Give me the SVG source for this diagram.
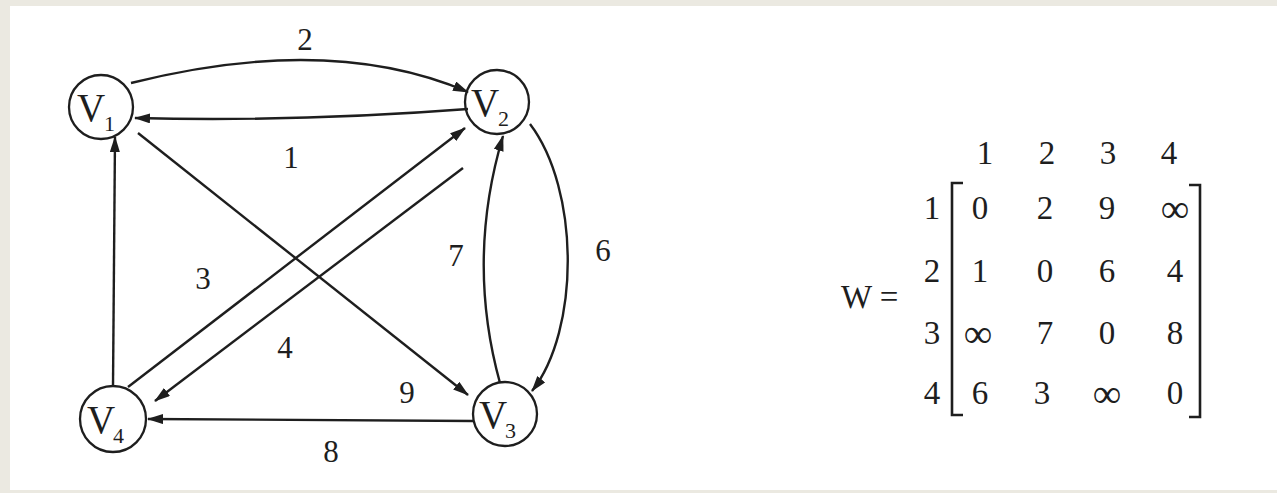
<svg xmlns="http://www.w3.org/2000/svg" width="1277" height="493" viewBox="0 0 1277 493">
<style>
.bg{fill:#ebe9e1}
.node circle{fill:none;stroke:#1e1e1e;stroke-width:2.3}
.t{font-family:"Liberation Serif","Times New Roman",serif;fill:#1e1e1e}
.nl{font-size:39px}
.sub{font-size:22px}
.lbl{font-size:31px;text-anchor:middle}
.m{font-size:33px;text-anchor:middle}
.inf{font-size:40px}
.edge{fill:none;stroke:#1e1e1e;stroke-width:2.4}
.br{fill:none;stroke:#1e1e1e;stroke-width:2.6}
</style>
<defs>
<marker id="ah" viewBox="0 0 16 10" refX="15" refY="5" markerWidth="16" markerHeight="10" markerUnits="userSpaceOnUse" orient="auto">
<path d="M0,0 L16,5 L0,10 Z" fill="#1e1e1e"/>
</marker>
</defs>
<rect x="0" y="0" width="1277" height="493" class="bg"/>
<rect x="10" y="6" width="1267" height="484" fill="#ffffff"/>

<g id="connectors">
<path class="edge" d="M131,83 Q330,33 468,92" marker-end="url(#ah)"/>
<path class="edge" d="M468,109 Q300,122 135,118" marker-end="url(#ah)"/>
<path class="edge" d="M138,133 L468,395" marker-end="url(#ah)"/>
<path class="edge" d="M113,386 L115,137" marker-end="url(#ah)"/>
<path class="edge" d="M128,387 L465,128" marker-end="url(#ah)"/>
<path class="edge" d="M463,168 L155,401" marker-end="url(#ah)"/>
<path class="edge" d="M500,383 Q466,260 503,136" marker-end="url(#ah)"/>
<path class="edge" d="M530,124 C580,190 580,330 532,391" marker-end="url(#ah)"/>
<path class="edge" d="M473,421 L148,419" marker-end="url(#ah)"/>
<text class="t lbl" x="305" y="50">2</text>
<text class="t lbl" x="291" y="168">1</text>
<text class="t lbl" x="203" y="289">3</text>
<text class="t lbl" x="285" y="358">4</text>
<text class="t lbl" x="456" y="266">7</text>
<text class="t lbl" x="603" y="261">6</text>
<text class="t lbl" x="407" y="403">9</text>
<text class="t lbl" x="331" y="462">8</text>
</g>

<g id="V1" class="node">
<circle cx="101" cy="107" r="32"/>
<text class="t nl" x="77" y="121">V</text><text class="t sub" x="104" y="131">1</text>
</g>
<g id="V2" class="node">
<circle cx="497" cy="102" r="32"/>
<text class="t nl" x="471" y="116">V</text><text class="t sub" x="498" y="126">2</text>
</g>
<g id="V3" class="node">
<circle cx="505" cy="414" r="32"/>
<text class="t nl" x="479" y="428">V</text><text class="t sub" x="505" y="438">3</text>
</g>
<g id="V4" class="node">
<circle cx="113" cy="419" r="33"/>
<text class="t nl" x="87" y="433">V</text><text class="t sub" x="113" y="443">4</text>
</g>

<g id="matrix">
<text class="t" style="font-size:33px" x="841" y="308">W =</text>
<text class="t m" x="985" y="164">1</text>
<text class="t m" x="1047" y="164">2</text>
<text class="t m" x="1108" y="164">3</text>
<text class="t m" x="1169" y="164">4</text>
<text class="t m" x="932" y="219">1</text>
<text class="t m" x="932" y="282">2</text>
<text class="t m" x="932" y="344">3</text>
<text class="t m" x="932" y="404">4</text>
<path class="br" d="M963,183 L952,183 L952,415 L963,415"/>
<path class="br" d="M1189,185 L1200,185 L1200,417 L1189,417"/>
<text class="t m" x="980" y="219">0</text>
<text class="t m" x="1045" y="219">2</text>
<text class="t m" x="1107" y="219">9</text>
<text class="t m inf" x="1175" y="222">∞</text>
<text class="t m" x="980" y="282">1</text>
<text class="t m" x="1045" y="282">0</text>
<text class="t m" x="1107" y="282">6</text>
<text class="t m" x="1175" y="282">4</text>
<text class="t m inf" x="978" y="347">∞</text>
<text class="t m" x="1045" y="344">7</text>
<text class="t m" x="1107" y="344">0</text>
<text class="t m" x="1175" y="344">8</text>
<text class="t m" x="980" y="404">6</text>
<text class="t m" x="1042" y="404">3</text>
<text class="t m inf" x="1107" y="407">∞</text>
<text class="t m" x="1175" y="404">0</text>
</g>
</svg>
